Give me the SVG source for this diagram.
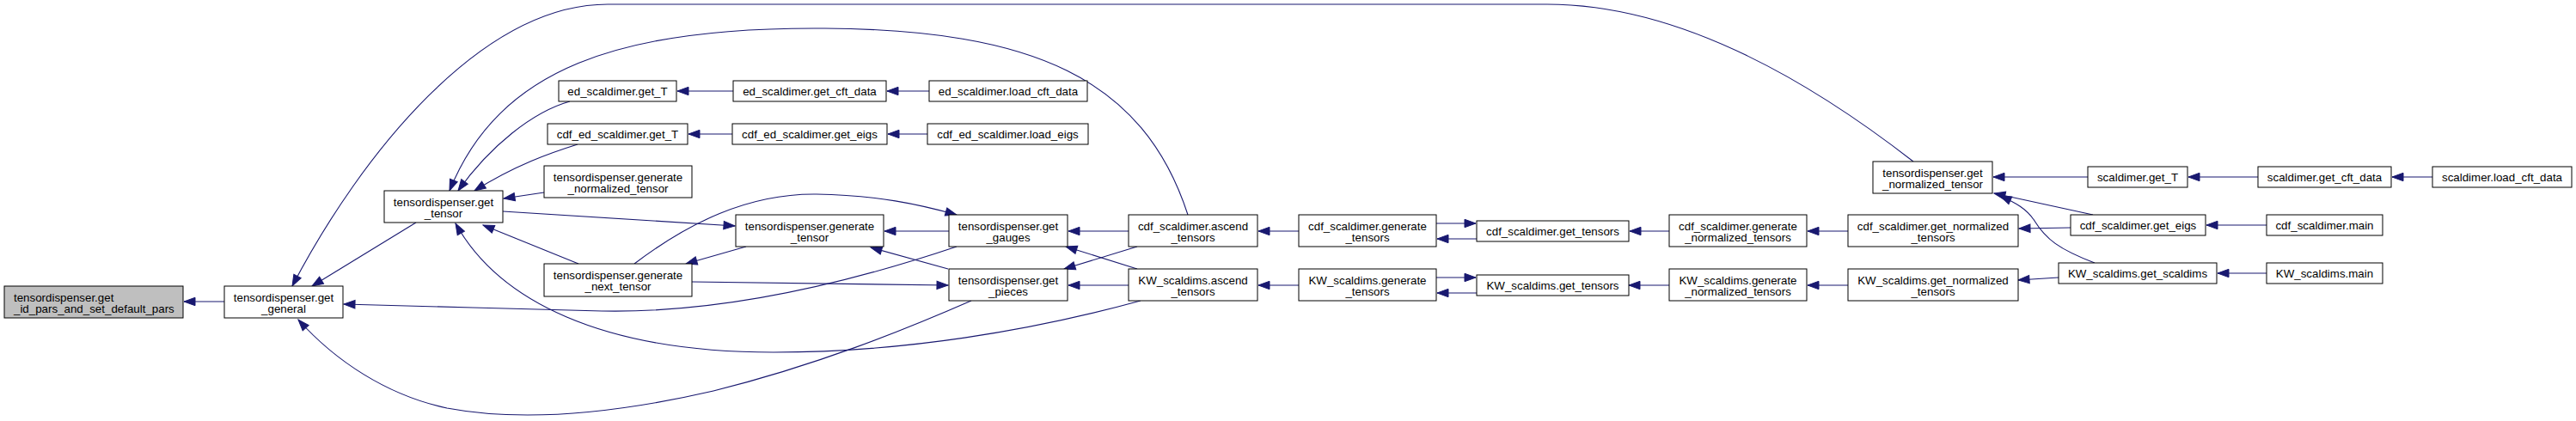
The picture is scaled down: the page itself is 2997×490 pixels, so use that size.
<svg xmlns="http://www.w3.org/2000/svg" width="2997" height="490" viewBox="0 0 2997 490">
<style>
.n rect{fill:#fff;stroke:#000;stroke-width:1}
.n text{font-family:"Liberation Sans",Arial,Helvetica,sans-serif;font-size:13.33px;fill:#000;text-anchor:middle}
#edges path{fill:none;stroke:#191970;stroke-width:1.1}
</style>
<defs>
<marker id="ah" markerUnits="userSpaceOnUse" markerWidth="14" markerHeight="10" viewBox="0 0 14 10" refX="13" refY="5" orient="auto" overflow="visible">
<path d="M0,0.3 L13,5 L0,9.7 z" fill="#191970" stroke="#191970" stroke-width="1"/>
</marker>
</defs>
<rect width="2997" height="490" fill="#fff"/>
<g id="edges" marker-end="url(#ah)">
<path d="M261,351 L214,351"/>
<path d="M484,259 L363,333"/>
<path d="M2226,188 C2100,90 1950,5 1800,5 L707,5 C560,5 420,180 340,333"/>
<path d="M1382,250 C1330,90 1200,35 960,33 C720,31 580,80 523,222"/>
<path d="M663,118 C620,130 570,170 533,222"/>
<path d="M672,168 C640,178 600,192 552,222"/>
<path d="M633,224 L586,231"/>
<path d="M585,246 L855,263"/>
<path d="M673,307 L562,262"/>
<path d="M1327,350 C1200,385 1050,410 900,410 C700,410 580,350 530,260"/>
<path d="M1113,287 C1000,325 850,365 700,362 C600,360 500,356 400,354"/>
<path d="M1130,350 C1050,385 950,425 830,455 C700,485 600,490 520,475 C450,460 390,420 347,372"/>
<path d="M868,287 L798,307"/>
<path d="M738,307 C800,260 870,225 950,226 C1020,227 1070,238 1113,250"/>
<path d="M805,328 L1103,332"/>
<path d="M1104,269 L1029,269"/>
<path d="M1103,313 L1013,288"/>
<path d="M1313,269 L1243,269"/>
<path d="M1323,287 L1238,313"/>
<path d="M1323,313 L1240,287"/>
<path d="M1313,332 L1243,332"/>
<path d="M1511,269 L1464,269"/>
<path d="M1511,332 L1464,332"/>
<path d="M1671,260 L1717,260"/>
<path d="M1718,278 L1672,278"/>
<path d="M1671,323 L1717,323"/>
<path d="M1718,341 L1672,341"/>
<path d="M1942,269 L1896,269"/>
<path d="M1942,332 L1895,332"/>
<path d="M2150,269 L2103,269"/>
<path d="M2150,332 L2103,332"/>
<path d="M2409,265 L2349,266"/>
<path d="M2395,323 L2348,326"/>
<path d="M2429,206 L2319,206"/>
<path d="M2435,250 L2320,225"/>
<path d="M2437,306 C2395,290 2380,278 2367,257 C2358,243 2345,236 2327,228"/>
<path d="M2627,206 L2546,206"/>
<path d="M2830,206 L2783,206"/>
<path d="M2637,262 L2567,262"/>
<path d="M2637,318 L2580,318"/>
<path d="M853,106 L788,106"/>
<path d="M1081,106 L1032,106"/>
<path d="M852,156 L801,156"/>
<path d="M1079,156 L1033,156"/>
</g>
<g id="n0" class="n"><rect x="5" y="333" width="208" height="37" style="fill:#bfbfbf"/><text x="16" y="350.5" style="text-anchor:start">tensordispenser.get</text><text x="16" y="363.8" style="text-anchor:start">_id_pars_and_set_default_pars</text></g>
<g id="n1" class="n"><rect x="261" y="333" width="138" height="37"/><text x="330" y="350.5">tensordispenser.get</text><text x="330" y="363.8">_general</text></g>
<g id="n2" class="n"><rect x="447" y="222" width="138" height="37"/><text x="516" y="239.5">tensordispenser.get</text><text x="516" y="252.8">_tensor</text></g>
<g id="n3" class="n"><rect x="650" y="94" width="137" height="24"/><text x="718.5" y="111">ed_scaldimer.get_T</text></g>
<g id="n4" class="n"><rect x="637" y="144" width="163" height="24"/><text x="718.5" y="161">cdf_ed_scaldimer.get_T</text></g>
<g id="n5" class="n"><rect x="633" y="193" width="172" height="37"/><text x="719" y="210.5">tensordispenser.generate</text><text x="719" y="223.8">_normalized_tensor</text></g>
<g id="n6" class="n"><rect x="633" y="307" width="172" height="38"/><text x="719" y="324.5">tensordispenser.generate</text><text x="719" y="338">_next_tensor</text></g>
<g id="n7" class="n"><rect x="853" y="94" width="178" height="24"/><text x="942" y="111">ed_scaldimer.get_cft_data</text></g>
<g id="n8" class="n"><rect x="852" y="144" width="180" height="24"/><text x="942" y="161">cdf_ed_scaldimer.get_eigs</text></g>
<g id="n9" class="n"><rect x="856" y="250" width="172" height="37"/><text x="942" y="267.5">tensordispenser.generate</text><text x="942" y="280.8">_tensor</text></g>
<g id="n10" class="n"><rect x="1081" y="94" width="184" height="24"/><text x="1173" y="111">ed_scaldimer.load_cft_data</text></g>
<g id="n11" class="n"><rect x="1079" y="144" width="187" height="24"/><text x="1172.5" y="161">cdf_ed_scaldimer.load_eigs</text></g>
<g id="n12" class="n"><rect x="1104" y="250" width="138" height="37"/><text x="1173" y="267.5">tensordispenser.get</text><text x="1173" y="280.8">_gauges</text></g>
<g id="n13" class="n"><rect x="1104" y="313" width="138" height="37"/><text x="1173" y="330.5">tensordispenser.get</text><text x="1173" y="343.8">_pieces</text></g>
<g id="n14" class="n"><rect x="1313" y="250" width="150" height="37"/><text x="1388" y="267.5">cdf_scaldimer.ascend</text><text x="1388" y="280.8">_tensors</text></g>
<g id="n15" class="n"><rect x="1313" y="313" width="150" height="37"/><text x="1388" y="330.5">KW_scaldims.ascend</text><text x="1388" y="343.8">_tensors</text></g>
<g id="n16" class="n"><rect x="1511" y="250" width="160" height="37"/><text x="1591" y="267.5">cdf_scaldimer.generate</text><text x="1591" y="280.8">_tensors</text></g>
<g id="n17" class="n"><rect x="1511" y="313" width="160" height="37"/><text x="1591" y="330.5">KW_scaldims.generate</text><text x="1591" y="343.8">_tensors</text></g>
<g id="n18" class="n"><rect x="1718" y="257" width="177" height="24"/><text x="1806.5" y="274">cdf_scaldimer.get_tensors</text></g>
<g id="n19" class="n"><rect x="1718" y="320" width="177" height="24"/><text x="1806.5" y="337">KW_scaldims.get_tensors</text></g>
<g id="n20" class="n"><rect x="1942" y="250" width="160" height="37"/><text x="2022" y="267.5">cdf_scaldimer.generate</text><text x="2022" y="280.8">_normalized_tensors</text></g>
<g id="n21" class="n"><rect x="1942" y="313" width="160" height="37"/><text x="2022" y="330.5">KW_scaldims.generate</text><text x="2022" y="343.8">_normalized_tensors</text></g>
<g id="n22" class="n"><rect x="2179" y="188" width="139" height="37"/><text x="2248.5" y="205.5">tensordispenser.get</text><text x="2248.5" y="218.8">_normalized_tensor</text></g>
<g id="n23" class="n"><rect x="2150" y="250" width="198" height="37"/><text x="2249" y="267.5">cdf_scaldimer.get_normalized</text><text x="2249" y="280.8">_tensors</text></g>
<g id="n24" class="n"><rect x="2150" y="313" width="198" height="37"/><text x="2249" y="330.5">KW_scaldims.get_normalized</text><text x="2249" y="343.8">_tensors</text></g>
<g id="n25" class="n"><rect x="2429" y="194" width="116" height="24"/><text x="2487" y="211">scaldimer.get_T</text></g>
<g id="n26" class="n"><rect x="2409" y="250" width="157" height="24"/><text x="2487.5" y="267">cdf_scaldimer.get_eigs</text></g>
<g id="n27" class="n"><rect x="2395" y="306" width="184" height="24"/><text x="2487" y="323">KW_scaldims.get_scaldims</text></g>
<g id="n28" class="n"><rect x="2627" y="194" width="155" height="24"/><text x="2704.5" y="211">scaldimer.get_cft_data</text></g>
<g id="n29" class="n"><rect x="2830" y="194" width="162" height="24"/><text x="2911" y="211">scaldimer.load_cft_data</text></g>
<g id="n30" class="n"><rect x="2637" y="250" width="135" height="24"/><text x="2704.5" y="267">cdf_scaldimer.main</text></g>
<g id="n31" class="n"><rect x="2637" y="306" width="135" height="24"/><text x="2704.5" y="323">KW_scaldims.main</text></g>
</svg>
